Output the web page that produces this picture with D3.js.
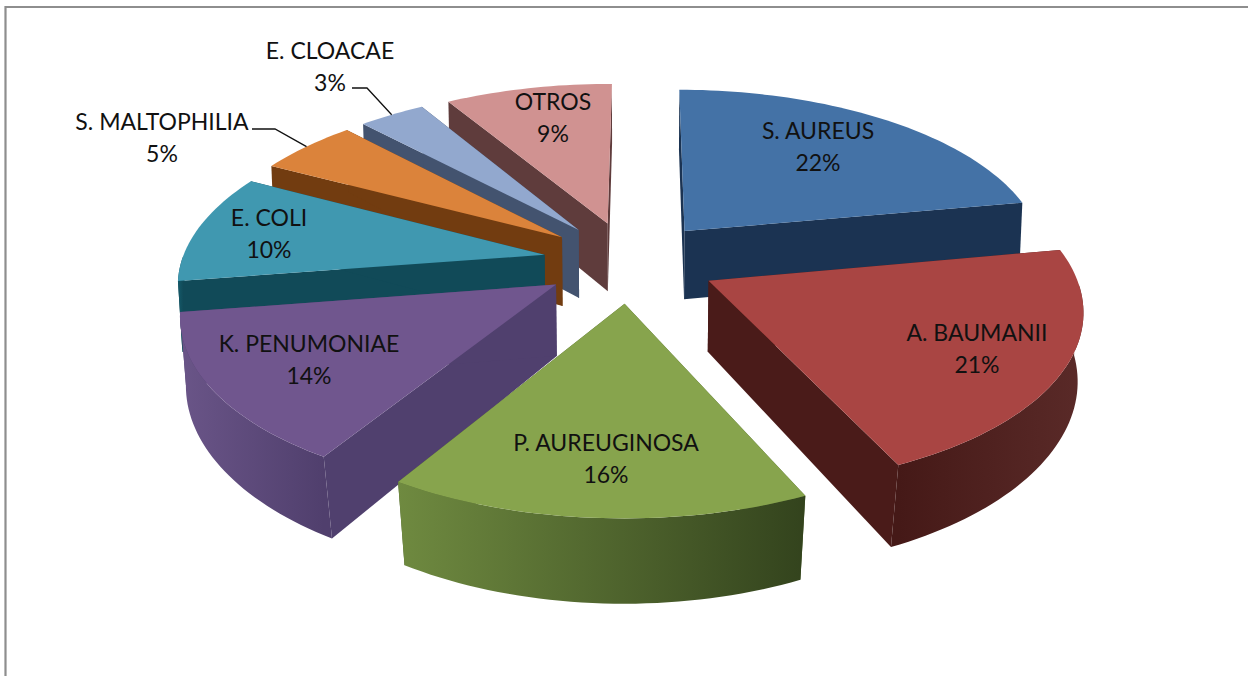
<!DOCTYPE html>
<html><head><meta charset="utf-8">
<script src="https://cdnjs.cloudflare.com/ajax/libs/d3/7.8.5/d3.min.js"></script>
<style>
html,body{margin:0;padding:0;background:#fff;overflow:hidden}
text{font-family:Lato,"Open Sans",sans-serif;fill:#111;text-anchor:middle}
</style></head><body>
<script>
const categories=["S. AUREUS","A. BAUMANII","P. AUREUGINOSA","K. PENUMONIAE","E. COLI","S. MALTOPHILIA","E. CLOACAE","OTROS"];
const values=[22.04,21.03,15.61,13.8,10.16,5.2,3.45,8.7];
const topColors=["#4472a6","#a94543","#87a44d","#70568e","#4098b0","#db833b","#92a8ce","#d09291"];
const cutColors=["#1b3352","#4a1b19","#4e6230","#50406e","#114a58","#723c10","#43536f","#5f3c3c"];
const rimLeft=["#1d3a5e","#451917","#6f8a40","#6a5588","#155a6a","#7a4012","#43536f","#5f3c3c"];
const rimRight=["#17304e","#5a2a28","#33431d","#503f6d","#114a58","#6a3810","#43536f","#5f3c3c"];
const drawOrder=[7,6,0,5,4,1,3,2];
const labelAt=[[818,139],[977,341],[606,451],[309,352],[269,226],[162,130],[330,59],[553,110]];
const leaders=[null,null,null,null,null,[[252,129],[275,129]],[[352,88],[367,88]],null];

const W=1248,H=676;
const svg=d3.select("body").append("svg").attr("width",W).attr("height",H);
svg.append("path").attr("d",`M5.5,${H}V7H${W}`).attr("fill","none").attr("stroke","#8e8e8e").attr("stroke-width",2.2);
const defs=svg.append("defs");

const P={cx:630,cy:261.5,A:363,B:170,k:0.145,depth:70,explode:0.24,rot:0.005};
const pie=d3.pie().sort(null).value(d=>d).startAngle(P.rot).endAngle(P.rot+2*Math.PI);
const arcs=pie(values);
function project(X,Z,low){
  const w=1-P.k*Z;
  const wx=low?w+0.008+0.016*Math.max(0,Math.min(1,Z)):w;
  return [P.cx+P.A*X/wx,P.cy+(P.B*Z+(low?P.depth:0))/w];
}
const line=d3.line();
const g=svg.append("g");
const rimPoints=[];
arcs.forEach((a,i)=>{
  const mid=(a.startAngle+a.endAngle)/2;
  const ox=P.explode*Math.sin(mid),oz=-P.explode*Math.cos(mid);
  const n=Math.max(12,Math.round((a.endAngle-a.startAngle)*40));
  const ang=d3.range(n+1).map(j=>a.startAngle+(a.endAngle-a.startAngle)*j/n);
  const rim=(l,list)=>list.map(t=>project(ox+Math.sin(t),oz-Math.cos(t),l));
  const front=ang.filter(t=>t>=Math.PI/2&&t<=3*Math.PI/2);
  const c=l=>project(ox,oz,l);
  a.parts={rimTop:rim(false,ang),rimLow:rim(true,ang),frontTop:rim(false,front),frontLow:rim(true,front),cTop:c(false),cLow:c(true)};
  rimPoints[i]=project(ox+Math.sin(mid),oz-Math.cos(mid),false);
});
drawOrder.forEach(i=>{
  const p=arcs[i].parts;
  const s=g.append("g").attr("class","slice");
  const last=p.rimTop.length-1;
  s.append("path").attr("d",line([p.cTop,p.rimTop[0],p.rimLow[0],p.cLow])+"Z").attr("fill",cutColors[i]);
  s.append("path").attr("d",line([p.cTop,p.rimTop[last],p.rimLow[last],p.cLow])+"Z").attr("fill",cutColors[i]);
  if(p.frontTop.length>1){
    const xs=p.frontTop.map(d=>d[0]);
    const id="rim"+i;
    const gr=defs.append("linearGradient").attr("id",id).attr("gradientUnits","userSpaceOnUse")
      .attr("x1",d3.min(xs)).attr("x2",d3.max(xs)).attr("y1",0).attr("y2",0);
    gr.append("stop").attr("offset","0").attr("stop-color",rimLeft[i]);
    gr.append("stop").attr("offset","1").attr("stop-color",rimRight[i]);
    s.append("path").attr("d",line(p.frontTop.concat(p.frontLow.slice().reverse()))+"Z").attr("fill",`url(#${id})`);
  }
  s.append("path").attr("d",line([p.cTop].concat(p.rimTop))+"Z").attr("fill",topColors[i]);
});
leaders.forEach((l,i)=>{
  if(!l) return;
  svg.append("path").attr("d",line(l.concat([rimPoints[i]]))).attr("fill","none").attr("stroke","#111").attr("stroke-width",1.3);
});
categories.forEach((c,i)=>{
  const t=svg.append("text").attr("x",labelAt[i][0]).attr("y",labelAt[i][1]).attr("font-size",23);
  t.append("tspan").attr("x",labelAt[i][0]).text(c);
  t.append("tspan").attr("x",labelAt[i][0]).attr("dy",32).text(Math.round(values[i])+"%");
});
</script></body></html>
